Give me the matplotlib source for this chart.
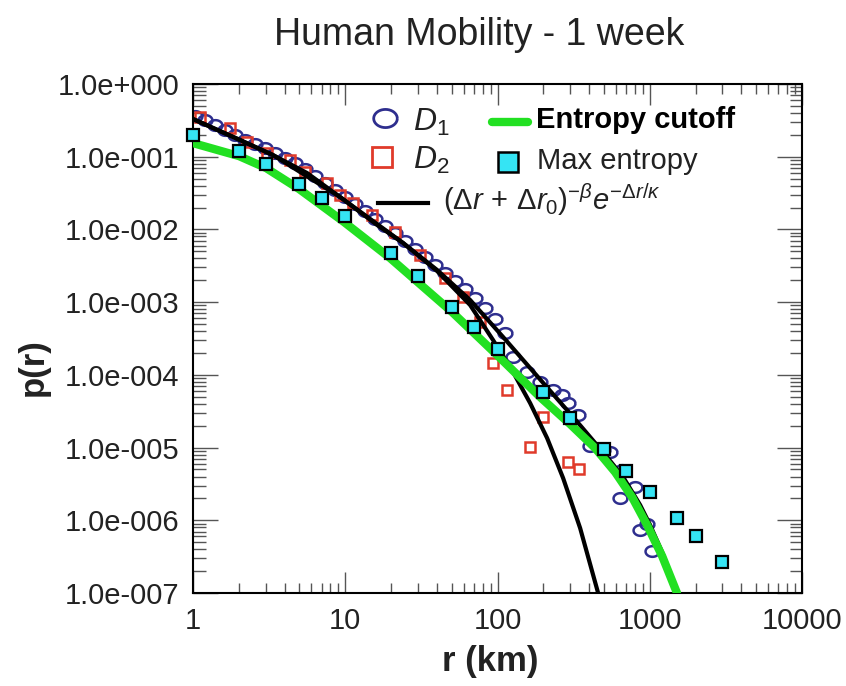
import numpy as np
import matplotlib
matplotlib.use("Agg")
import matplotlib.pyplot as plt
from matplotlib.ticker import FixedLocator, FuncFormatter, LogLocator, NullFormatter

plt.rcParams['font.family'] = ['Liberation Sans', 'DejaVu Sans']
plt.rcParams['mathtext.fontset'] = 'custom'
plt.rcParams['mathtext.rm'] = 'Liberation Sans'
plt.rcParams['mathtext.it'] = 'Liberation Sans:italic'

# D1 data set (navy open circles)
d1_r = [1.03, 1.20, 1.395, 1.62, 1.89, 2.20, 2.56, 2.97, 3.46, 4.02, 4.68, 5.44,
        6.33, 7.37, 8.57, 9.97, 11.6, 13.5, 15.7, 18.3, 21.2, 24.7, 28.7, 33.4,
        38.9, 45.3, 52.6, 61.3, 71.3, 82.9, 96.4, 112.2,
        126.6, 156.5, 190.5, 231.9, 265.7, 291, 338.6, 405.8, 494, 549.5,
        658.7, 801.7, 639, 961, 865, 1037]
d1_p = [0.363, 0.320, 0.273, 0.233, 0.199, 0.170, 0.150, 0.132, 0.1125, 0.0960,
        0.0818, 0.0677, 0.0543, 0.0435, 0.0348, 0.0279, 0.0224, 0.0179, 0.0139,
        0.0111, 0.00891, 0.00692, 0.00537, 0.00417, 0.00324, 0.00251, 0.00195,
        0.00151, 0.00114, 8.3e-4, 5.86e-4, 3.8e-4,
        1.76e-4, 1.09e-4, 7.96e-5, 6.18e-5, 5.27e-5, 4.09e-5, 2.8e-5, 1.05e-5,
        9.24e-6, 8.67e-6, 4.9e-6, 2.86e-6, 2.02e-6, 8.87e-7, 7.33e-7, 3.77e-7]

# D2 data set (red open squares)
d2_r = [1.11, 1.75, 2.26, 3.06, 4.34, 5.44, 7.59, 9.25, 11.2, 15.0,
        21.2, 31.0, 45.3, 59.4, 76.9, 93.5, 116, 164, 199, 291, 344]
d2_p = [0.35, 0.248, 0.159, 0.112, 0.090, 0.0616, 0.0435, 0.0297, 0.0231, 0.0158,
        9.2e-3, 4.45e-3, 2.14e-3, 1.17e-3, 5.32e-4, 1.45e-4, 6.2e-5, 1.02e-5,
        2.6e-5, 6.3e-6, 5.1e-6]

# fit curves (black)
fit1_r = [1, 2.04, 3.35, 5.61, 9.25, 16.2, 24.0, 40.1, 66.1, 108.9, 163.8,
          314, 525, 669, 865, 1006, 1206, 1403]
fit1_p = [0.330, 0.170, 0.1055, 0.0597, 0.0279, 0.0115, 0.0065, 0.00277,
          0.00107, 3.31e-4, 1.24e-4, 2.63e-5, 7.4e-6, 3.93e-6, 1.62e-6,
          8.6e-7, 3.65e-7, 1.6e-7]
fit2_r = [1, 3.35, 9.25, 24.0, 40.1, 66.1, 93.5, 126.6, 163.8, 211.8, 269.8,
          349, 458]
fit2_p = [0.330, 0.1055, 0.0279, 0.0065, 2.68e-3, 9.12e-4, 3.01e-4, 1.09e-4,
          4.09e-5, 1.35e-5, 3.8e-6, 7.8e-7, 1.0e-7]

# entropy cutoff (green)
ent_r = [1, 2.005, 3.02, 4.97, 9.82, 19.7, 50.3, 99.4, 190.5, 300, 437.7,
         592.6, 766, 961, 1206, 1510]
ent_p = [0.154, 0.102, 0.0699, 0.0360, 0.01264, 0.00404, 7.31e-4, 1.87e-4,
         4.95e-5, 2.1e-5, 9.84e-6, 4.6e-6, 2.08e-6, 8.59e-7, 3.22e-7, 1.0e-7]

# max entropy (cyan squares)
max_r = [1, 2, 3, 5, 7, 10, 20, 30, 50, 70, 100, 200, 300, 500, 700, 1000,
         1500, 2000, 3000]
max_p = [0.199, 0.12, 0.079, 0.042, 0.027, 0.0153, 0.00473, 0.00229, 8.6e-4,
         4.55e-4, 2.26e-4, 5.8e-5, 2.55e-5, 9.5e-6, 4.75e-6, 2.45e-6, 1.07e-6,
         6.06e-7, 2.66e-7]

x_ticks = [1, 10, 100, 1000, 10000]
y_exps = list(range(0, -8, -1))

NAVY = '#2e2e8e'
RED = '#e03a2a'
CYAN = '#35e4f4'
GREEN = '#22e022'

t = np.linspace(0, 2 * np.pi, 41)
ellipse = list(zip(1.3 * np.cos(t), np.sin(t)))

fig = plt.figure(figsize=(8.46, 6.86), dpi=100)
ax = fig.add_axes([193 / 846, 1 - 593 / 686, 609 / 846, 509 / 686])

ax.plot(d1_r, d1_p, ls='none', marker=ellipse, ms=10, mfc='none', mec=NAVY,
        mew=1.8, zorder=2)
ax.plot(d2_r, d2_p, ls='none', marker='s', ms=7, mfc='none', mec=RED,
        mew=1.8, zorder=2)
ax.plot(fit1_r, fit1_p, color='black', lw=3, zorder=3)
ax.plot(fit2_r, fit2_p, color='black', lw=3, zorder=3)
ax.plot(ent_r, ent_p, color=GREEN, lw=6, solid_capstyle='round', zorder=4)
ax.plot(max_r, max_p, ls='none', marker='s', ms=8, mfc=CYAN, mec='black',
        mew=1.6, zorder=5, clip_on=False)

ax.set_xscale('log')
ax.set_yscale('log')
ax.set_xlim(1, 10000)
ax.set_ylim(1e-7, 1)

ax.xaxis.set_major_locator(FixedLocator(x_ticks))
ax.xaxis.set_major_formatter(FuncFormatter(lambda v, p: '%d' % round(v)))
ax.yaxis.set_major_locator(FixedLocator([10.0 ** e for e in y_exps]))


def yfmt(v, p):
    e = int(round(np.log10(v)))
    return '1.0e%s%03d' % ('+' if e >= 0 else '-', abs(e))


ax.yaxis.set_major_formatter(FuncFormatter(yfmt))
for a in (ax.xaxis, ax.yaxis):
    a.set_minor_locator(LogLocator(base=10, subs=np.arange(2, 10), numticks=100))
    a.set_minor_formatter(NullFormatter())

ax.tick_params(which='both', direction='in', top=True, right=True,
               color='#555555', width=1, labelsize=21, labelcolor='#222222')
ax.tick_params(axis='x', which='major', length=15, pad=10)
ax.tick_params(axis='x', which='minor', length=7)
ax.tick_params(axis='y', which='major', length=18, pad=10)
ax.tick_params(axis='y', which='minor', length=9)
for s in ax.spines.values():
    s.set_linewidth(1.5)

# legend drawn by hand
tr = ax.transAxes
ax.plot([0.315], [0.933], transform=tr, marker=ellipse, ms=17, mfc='none',
        mec=NAVY, mew=2, clip_on=False)
ax.text(0.361, 0.925, '$D_1$', transform=tr, fontsize=23, va='center',
        color='#222222')
ax.plot([0.310], [0.857], transform=tr, marker='s', ms=14, mfc='none',
        mec=RED, mew=2, clip_on=False)
ax.text(0.361, 0.849, '$D_2$', transform=tr, fontsize=23, va='center',
        color='#222222')
ax.plot([0.304, 0.386], [0.766, 0.766], transform=tr, color='black', lw=3)
ax.text(0.411, 0.772, r'$(\Delta r\,+\,\Delta r_0)^{-\beta}e^{-\Delta r/\kappa}$',
        transform=tr, fontsize=21, va='center', color='#222222')
ax.plot([0.491, 0.550], [0.925, 0.925], transform=tr, color=GREEN, lw=6,
        solid_capstyle='round')
ax.text(0.563, 0.929, 'Entropy cutoff', transform=tr, fontsize=21,
        fontweight='bold', va='center', color='black')
ax.plot([0.517], [0.847], transform=tr, marker='s', ms=15, mfc=CYAN,
        mec='black', mew=1.8, clip_on=False)
ax.text(0.565, 0.849, 'Max entropy', transform=tr, fontsize=21, va='center',
        color='#222222')

fig.text(479 / 846, 1 - 35 / 686, 'Human Mobility - 1 week', ha='center',
         va='center', fontsize=27, color='#222222')
fig.text(490 / 846, 1 - 661 / 686, 'r (km)', ha='center', va='center',
         fontsize=25, fontweight='bold', color='#222222')
fig.text(33 / 846, 1 - 367 / 686, 'p(r)', ha='center', va='center',
         rotation=90, fontsize=25, fontweight='bold', color='#222222')

fig.savefig('out.png', dpi=100)
